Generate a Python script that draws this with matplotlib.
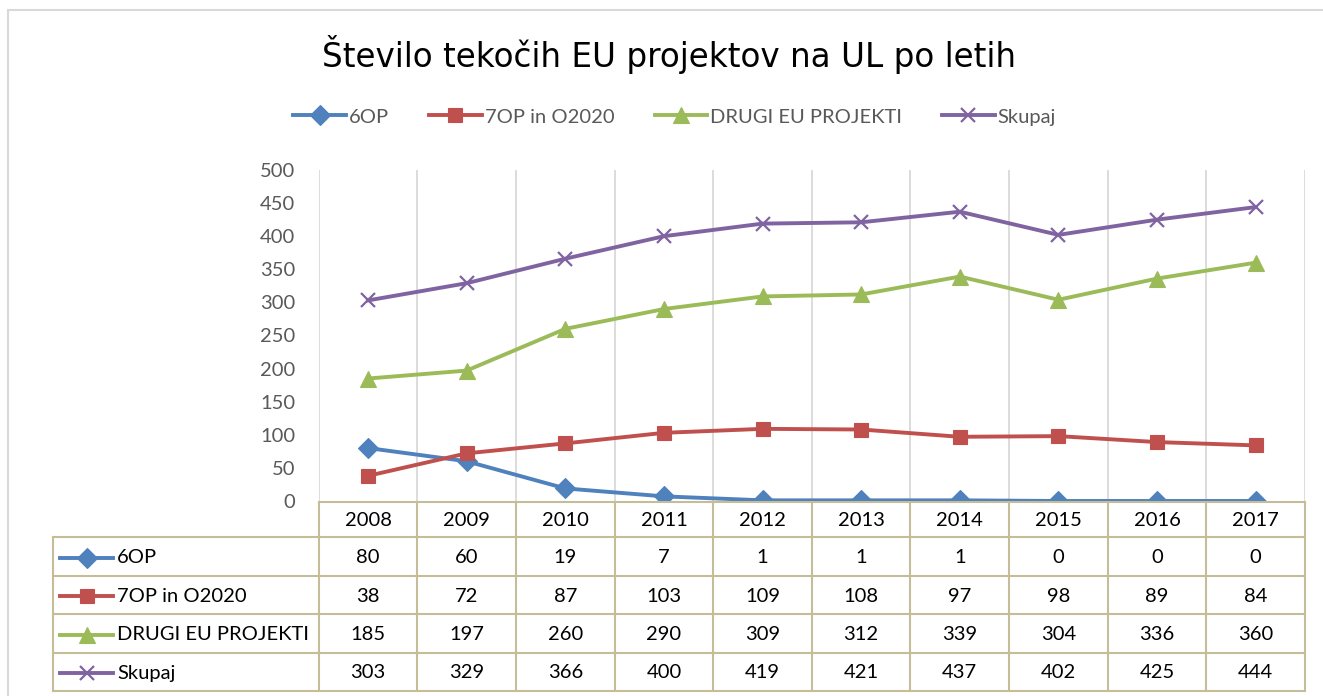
import matplotlib
matplotlib.use("Agg")
import matplotlib.pyplot as plt
from matplotlib.patches import Rectangle

# data
years = ["2008", "2009", "2010", "2011", "2012", "2013", "2014", "2015", "2016", "2017"]
op6 = [80, 60, 19, 7, 1, 1, 1, 0, 0, 0]
op7 = [38, 72, 87, 103, 109, 108, 97, 98, 89, 84]
drugi = [185, 197, 260, 290, 309, 312, 339, 304, 336, 360]
skupaj = [303, 329, 366, 400, 419, 421, 437, 402, 425, 444]
names = ["6OP", "7OP in O2020", "DRUGI EU PROJEKTI", "Skupaj"]
yticks = list(range(0, 501, 50))

series = [op6, op7, drugi, skupaj]
colors = ["#4f81bd", "#c0504d", "#9bbb59", "#8064a2"]
markers = ["D", "s", "^", "x"]
msizes = [10, 10, 12, 10]

plt.rcParams["font.family"] = ["Lato", "DejaVu Sans"]

W, H = 1323, 696
fig = plt.figure(figsize=(W / 100, H / 100), dpi=100)

# outer chart border
fig.patches.append(Rectangle((8 / W, -0.1), 1.2, 1 - 10 / H + 0.1, transform=fig.transFigure,
                             fill=False, edgecolor="#d9d9d9", lw=1.5))

left, right = 318.7, 1305
top, bottom = 170, 501
ax = fig.add_axes([left / W, 1 - bottom / H, (right - left) / W, (bottom - top) / H])
x = list(range(len(years)))
lines = []
for vals, c, m, ms, name in zip(series, colors, markers, msizes, names):
    ln, = ax.plot(x, vals, color=c, lw=2.8, marker=m, markersize=ms, markeredgewidth=1.6 if m == "x" else 0.8,
                  markeredgecolor=c, label=name, zorder=3)
    lines.append(ln)
ax.set_xlim(-0.5, len(years) - 0.5)
ax.set_ylim(0, 500)
ax.set_yticks(yticks)
ax.set_xticks([])
for b in range(len(years) + 1):
    ax.axvline(b - 0.5, color="#d9d9d9", lw=1.3, zorder=1)
for s in ax.spines.values():
    s.set_visible(False)
ax.tick_params(axis="y", length=0, pad=17, labelsize=14.5, labelcolor="#595959")

# title and legend
fig.text(0.506, 1 - 54 / H, "Število tekočih EU projektov na UL po letih", ha="center", va="center",
         fontsize=23.5, family="DejaVu Sans", color="#000000")
fig.legend(handles=lines, loc="center", bbox_to_anchor=(0.51, 1 - 117 / H), ncol=4, frameon=False,
           fontsize=14.5, handlelength=2.6, handletextpad=0.15, columnspacing=2.0, labelcolor="#595959")

# data table
t_top, t_bot = 502, 691
edges = [0, 35, 74, 112, 151, 189]
tax = fig.add_axes([left / W, 1 - t_bot / H, (right - left) / W, (t_bot - t_top) / H])
tax.set_xlim(-0.5, len(years) - 0.5)
tax.set_ylim(edges[-1], 0)
tax.axis("off")
colw = (right - left) / len(years)
lab_left = -0.5 - (left - 53) / colw
bc = "#c4bd97"
kw = dict(color=bc, lw=1.5, clip_on=False, zorder=2)
# horizontal lines
tax.plot([-0.5, 9.5], [edges[0], edges[0]], **kw)
for e in edges[1:]:
    tax.plot([lab_left, 9.5], [e, e], **kw)
# vertical lines
tax.plot([lab_left, lab_left], [edges[1], edges[-1]], **kw)
for b in range(len(years) + 1):
    tax.plot([b - 0.5, b - 0.5], [0, edges[-1]], **kw)

fs = 14.5
for i, yr in enumerate(years):
    tax.text(i, (edges[0] + edges[1]) / 2 + 1, yr, ha="center", va="center", fontsize=fs, color="#000000")
for r, (vals, c, m, ms, name) in enumerate(zip(series, colors, markers, msizes, names)):
    yc = (edges[r + 1] + edges[r + 2]) / 2 + 1
    x0 = lab_left + (60 - 53) / colw
    x1 = lab_left + (113 - 53) / colw
    tax.plot([x0, x1], [yc, yc], color=c, lw=2.8, clip_on=False)
    tax.plot([(x0 + x1) / 2], [yc], color=c, marker=m, markersize=ms,
             markeredgewidth=1.6 if m == "x" else 0.8, clip_on=False)
    tax.text(lab_left + (117 - 53) / colw, yc, name, ha="left", va="center", fontsize=fs, color="#000000")
    for i, v in enumerate(vals):
        tax.text(i, yc, str(v), ha="center", va="center", fontsize=fs, color="#000000")

fig.savefig("out.png", dpi=100)
